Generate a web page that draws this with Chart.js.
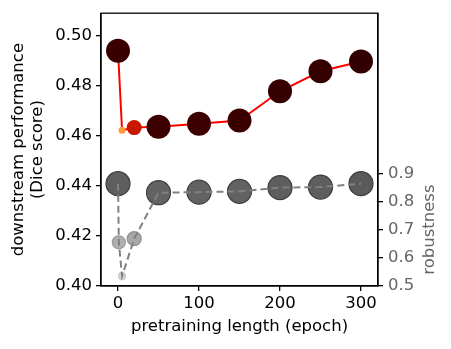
<!DOCTYPE html>
<html><head><meta charset="utf-8">
<script src="https://cdn.jsdelivr.net/npm/chart.js@4.4.1/dist/chart.umd.min.js"></script>
<style>html,body{margin:0;padding:0;background:#fff;}#wrap{width:451px;height:349px;}</style>
</head><body><div id="wrap"><canvas id="c" width="451" height="349"></canvas></div>
<script>
const epochsPerf = [0, 5, 20, 50, 100, 150, 200, 250, 300];
const dicePerf = [0.494, 0.4622, 0.4633, 0.4636, 0.4648, 0.4661, 0.4778, 0.4858, 0.4897];
const epochsRob = [0, 1, 5, 20, 50, 100, 150, 200, 250, 300];
const robustness = [0.863, 0.655, 0.535, 0.668, 0.831, 0.833, 0.836, 0.849, 0.851, 0.863];
const xTicks = [0, 100, 200, 300];
const yTicks = [0.40, 0.42, 0.44, 0.46, 0.48, 0.50];
const y2Ticks = [0.5, 0.6, 0.7, 0.8, 0.9];

const FONT = "'DejaVu Sans', sans-serif";
const perfPts = epochsPerf.map((x, i) => ({x, y: dicePerf[i]}));
const robPts = epochsRob.map((x, i) => ({x, y: robustness[i]}));

const perfColors = ['#3a0000', '#ff9a3a', '#c81800', '#3d0000', '#3d0000', '#3a0000', '#360000', '#340000', '#320000'];
const perfRadius = [12, 3.5, 7.5, 12, 12, 12, 12, 12, 12];
const robFill = ['#5e5e5e', '#b0b0b0', '#d8d8d8', '#a8a8a8', '#626262', '#626262', '#626262', '#5e5e5e', '#5e5e5e', '#5a5a5a'];
const robEdge = ['#3c3c3c', '#999999', '#c8c8c8', '#909090', '#404040', '#404040', '#404040', '#3c3c3c', '#3c3c3c', '#3a3a3a'];
const robRadius = [12, 6.5, 3.5, 7, 12, 12, 12, 12, 12, 12];

const frame = {
  id: 'frame',
  afterDraw(chart) {
    const {ctx, chartArea: a} = chart;
    ctx.save();
    ctx.strokeStyle = '#000';
    ctx.lineWidth = 1.3;
    ctx.strokeRect(a.left, a.top, a.right - a.left, a.bottom - a.top);
    const s = chart.scales.y2;
    ctx.fillStyle = '#666';
    ctx.font = "16.5px " + FONT;
    ctx.textAlign = 'center';
    ctx.textBaseline = 'middle';
    ctx.translate(430, s.getPixelForValue(0.7));
    ctx.rotate(-Math.PI / 2);
    ctx.fillText('robustness', 0, 0);
    ctx.restore();
  }
};

const fixTicks = (arr) => (scale) => { scale.ticks = arr.map(v => ({value: v})); };
const noPadV = (w) => (s) => { s.width = w; s.paddingTop = 0; s.paddingBottom = 0; };

new Chart(document.getElementById('c'), {
  type: 'scatter',
  data: {
    datasets: [
      {
        label: 'perf', data: perfPts, yAxisID: 'y', showLine: true,
        borderColor: '#ff0000', borderWidth: 2,
        pointBackgroundColor: perfColors, pointBorderColor: perfColors,
        pointRadius: perfRadius, pointBorderWidth: 0, order: 0
      },
      {
        label: 'robLine', data: robPts, yAxisID: 'y2', showLine: true,
        borderColor: '#808080', borderWidth: 2, borderDash: [7, 4],
        pointRadius: 0, order: 1
      },
      {
        label: 'robPts', data: robPts, yAxisID: 'y2', showLine: false,
        pointBackgroundColor: robFill, pointBorderColor: robEdge,
        pointRadius: robRadius, pointBorderWidth: 1.2, order: 2
      }
    ]
  },
  options: {
    responsive: false, animation: false,
    layout: {padding: {top: 12, left: 0, right: 0, bottom: 0}},
    plugins: {legend: {display: false}, tooltip: {enabled: false}},
    scales: {
      x: {
        type: 'linear', min: -21, max: 321,
        afterBuildTicks: fixTicks(xTicks),
        afterFit: (s) => { s.height = 63; s.paddingLeft = 0; s.paddingRight = 0; },
        grid: {drawOnChartArea: false, drawTicks: true, tickLength: 5, color: '#000', lineWidth: 1.3},
        border: {color: '#000', width: 1.3},
        ticks: {color: '#000', font: {family: FONT, size: 16.5}, padding: 3, maxRotation: 0},
        title: {display: true, text: 'pretraining length (epoch)', color: '#000', font: {family: FONT, size: 16.5}, padding: {top: 0, bottom: 12}}
      },
      y: {
        type: 'linear', position: 'left', min: 0.40, max: 0.509,
        afterBuildTicks: fixTicks(yTicks),
        afterFit: noPadV(101),
        grid: {drawOnChartArea: false, drawTicks: true, tickLength: 5, color: '#000', lineWidth: 1.3},
        border: {color: '#000', width: 1.3},
        ticks: {color: '#000', font: {family: FONT, size: 16.5}, padding: 4, callback: v => v.toFixed(2)},
        title: {display: true, text: ['downstream performance', '(Dice score)'], color: '#000', font: {family: FONT, size: 16.5, lineHeight: 1.1}, padding: {top: 10, bottom: 0}}
      },
      y2: {
        type: 'linear', position: 'right', min: 0.5, max: 1.468,
        afterBuildTicks: fixTicks(y2Ticks),
        afterFit: noPadV(73),
        grid: {drawOnChartArea: false, drawTicks: true, tickLength: 5, color: '#000', lineWidth: 1.3},
        border: {color: '#000', width: 1.3},
        ticks: {color: '#666', font: {family: FONT, size: 16.5}, padding: 5, callback: v => v.toFixed(1)}
      }
    }
  },
  plugins: [frame]
});
</script></body></html>
